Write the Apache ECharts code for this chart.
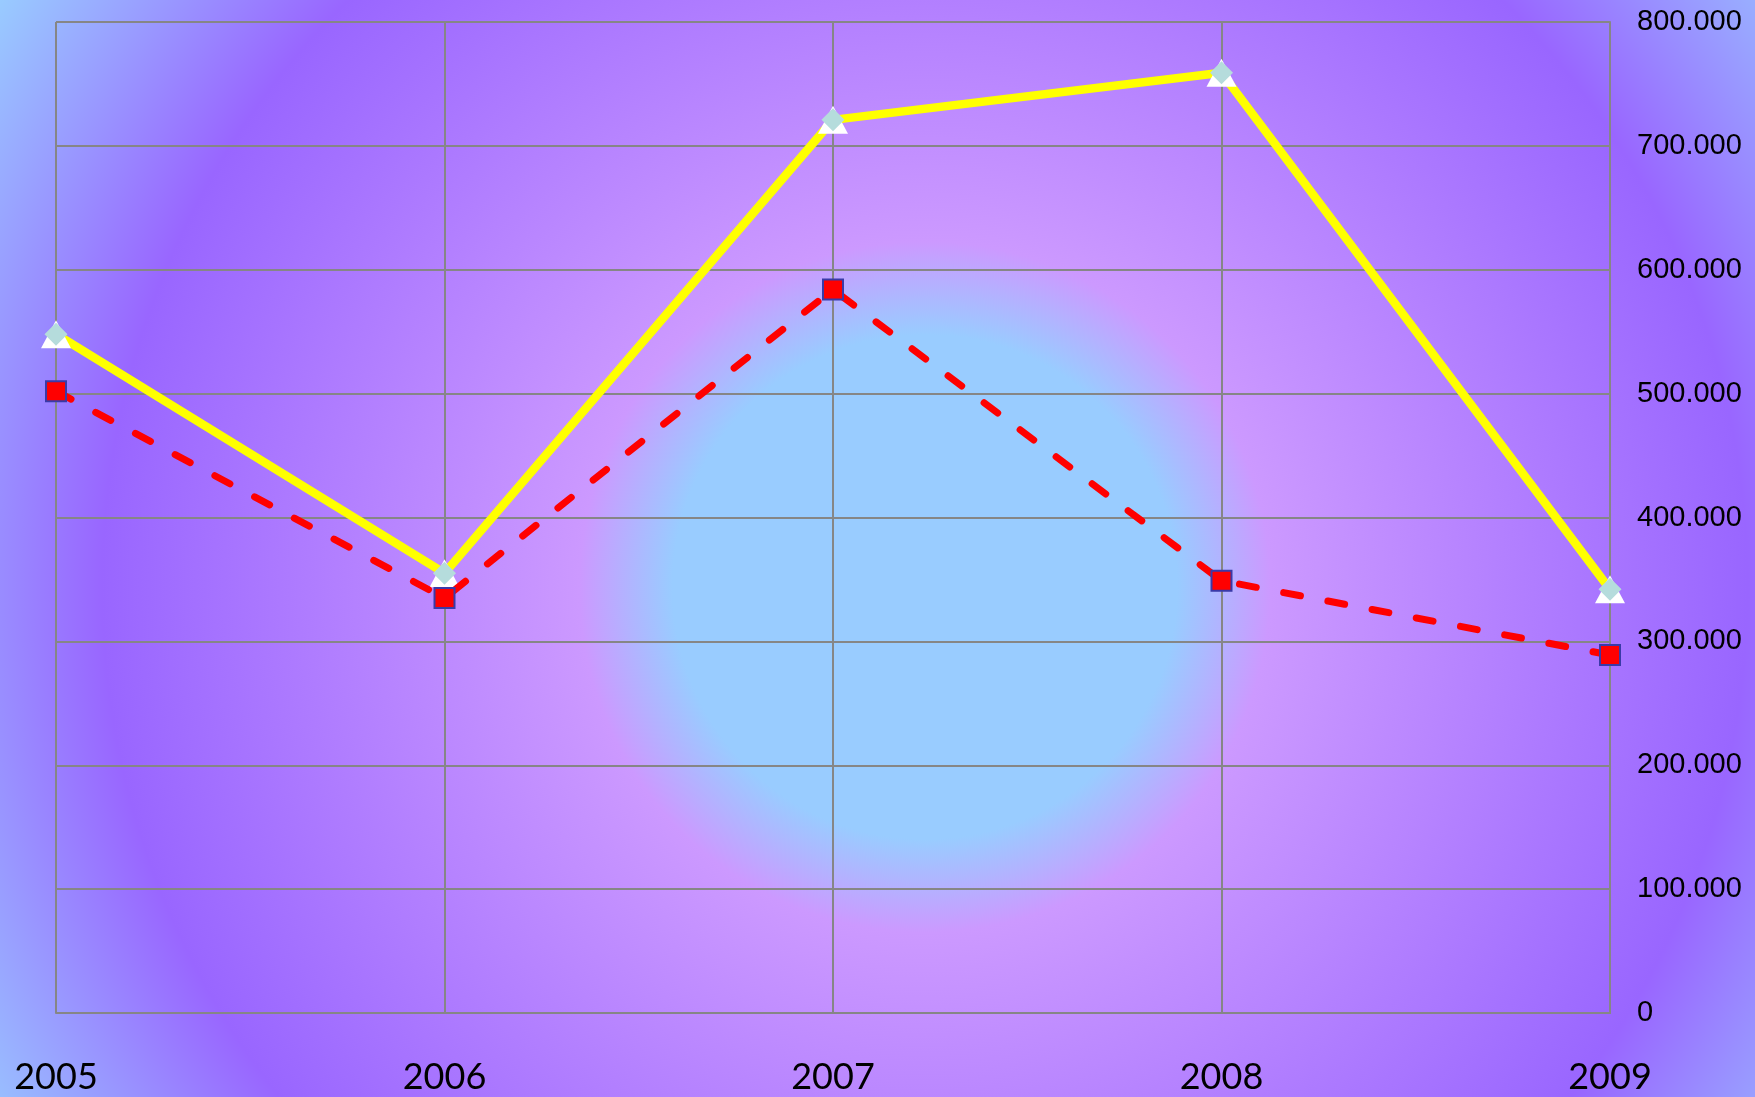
<!DOCTYPE html>
<html>
<head>
<meta charset="utf-8">
<script src="https://cdn.jsdelivr.net/npm/echarts@6/dist/echarts.min.js"></script>
<style>
  html, body { margin: 0; padding: 0; }
  #chart { width: 1755px; height: 1097px; }
</style>
</head>
<body>
<div id="chart"></div>
<script>
// categories and series values
const years = ['2005', '2006', '2007', '2008', '2009'];
const yellowValues = [548000, 355000, 721000, 759000, 342000];
const redValues = [502000, 335000, 584000, 349000, 289000];
const yTicks = [0, 100000, 200000, 300000, 400000, 500000, 600000, 700000, 800000];

// 800000 -> "800.000"
function fmt(v) {
  return String(v).replace(/\B(?=(\d{3})+(?!\d))/g, '.');
}

const chart = echarts.init(document.getElementById('chart'));

const option = {
  animation: false,
  backgroundColor: {
    type: 'radial',
    x: 0.527,
    y: 0.535,
    r: 1.0,
    colorStops: [
      { offset: 0, color: '#99CCFF' },
      { offset: 0.23, color: '#99CCFF' },
      { offset: 0.315, color: '#CC99FF' },
      { offset: 0.75, color: '#9966FF' },
      { offset: 1, color: '#99CCFF' }
    ]
  },
  grid: {
    left: 56,
    right: 145,
    top: 22,
    bottom: 84
  },
  xAxis: {
    type: 'category',
    data: years,
    boundaryGap: false,
    axisLine: { show: true, lineStyle: { color: '#868686', width: 2 } },
    axisTick: { show: false },
    splitLine: { show: true, lineStyle: { color: '#868686', width: 2 } },
    axisLabel: {
      color: '#000',
      fontFamily: 'Lato',
      fontSize: 36,
      margin: 46
    }
  },
  yAxis: {
    type: 'value',
    position: 'right',
    min: 0,
    max: yTicks[yTicks.length - 1],
    interval: 100000,
    axisLine: { show: true, lineStyle: { color: '#868686', width: 2 } },
    axisTick: { show: false },
    splitLine: { show: true, lineStyle: { color: '#868686', width: 2 } },
    axisLabel: {
      color: '#000',
      fontFamily: 'Liberation Sans',
      fontSize: 29,
      margin: 27,
      formatter: fmt
    }
  },
  series: [
    {
      name: 'yellow',
      type: 'line',
      data: yellowValues,
      symbol: 'triangle',
      symbolSize: [30, 28],
      itemStyle: { color: '#FFFFFF' },
      lineStyle: { color: '#FFFF00', width: 8.5 },
      z: 2
    },
    {
      name: 'yellowMarker',
      type: 'line',
      data: yellowValues,
      symbol: 'diamond',
      symbolSize: [23, 23],
      itemStyle: { color: '#B5DCDC' },
      lineStyle: { width: 0, opacity: 0 },
      z: 3
    },
    {
      name: 'red',
      type: 'line',
      data: redValues,
      symbol: 'rect',
      symbolSize: 20,
      itemStyle: { color: '#FF0000', borderColor: '#3A3AA8', borderWidth: 2 },
      lineStyle: { color: '#FF0000', width: 7, type: [17, 28], cap: 'round' },
      z: 4
    }
  ]
};

chart.setOption(option);
</script>
</body>
</html>
